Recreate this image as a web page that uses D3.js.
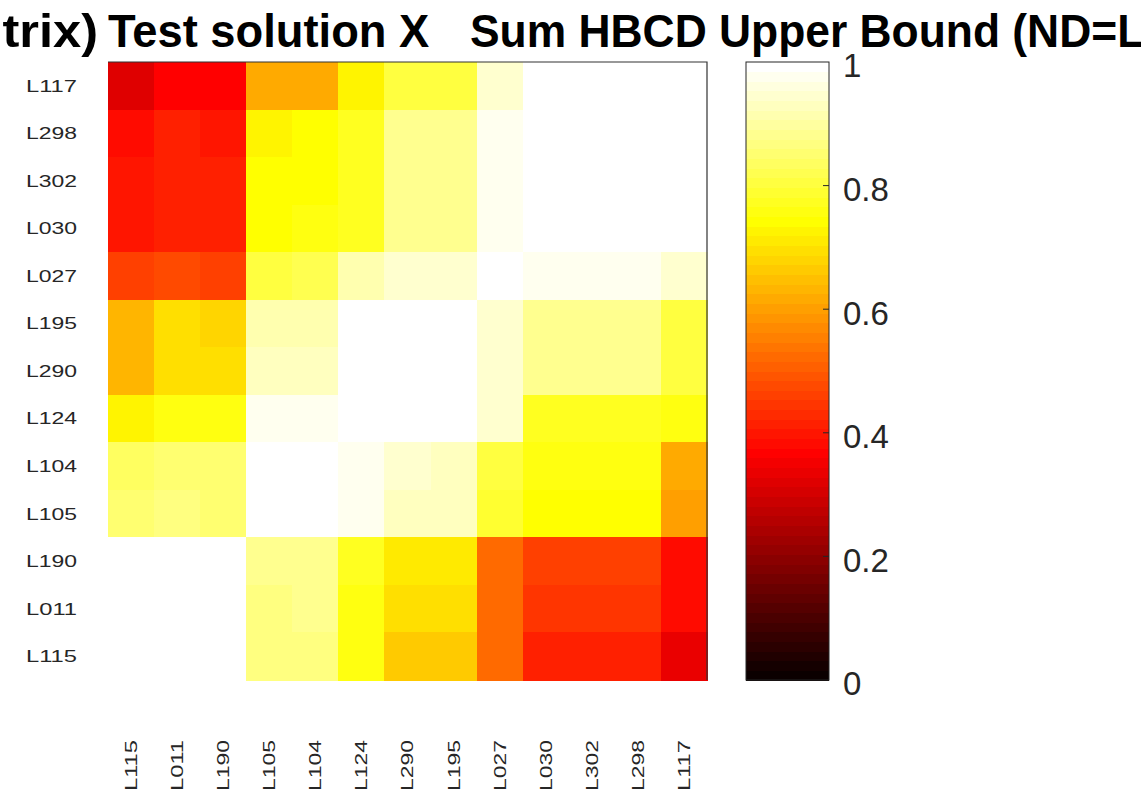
<!DOCTYPE html>
<html><head><meta charset="utf-8">
<script src="https://cdn.jsdelivr.net/npm/d3@7/dist/d3.min.js"></script>
<style>
body{margin:0;background:#fff;overflow:hidden;}
svg{display:block;font-family:Arial,"Liberation Sans",Helvetica,sans-serif;}
</style>
</head><body>
<svg id="chart" width="1141" height="795"></svg>
<script>
// ---- data ----
const rowLabels = ["L117","L298","L302","L030","L027","L195","L290","L124","L104","L105","L190","L011","L115"];
const colLabels = ["L115","L011","L190","L105","L104","L124","L290","L195","L027","L030","L302","L298","L117"];
const values = [
  [0.32,0.37,0.37,0.62,0.62,0.72,0.80,0.81,0.95,0.99,0.99,0.99,1.00],
  [0.39,0.41,0.40,0.73,0.74,0.77,0.88,0.88,0.98,0.99,1.00,1.00,0.99],
  [0.40,0.42,0.41,0.74,0.74,0.78,0.89,0.89,0.98,1.00,1.00,1.00,0.99],
  [0.40,0.42,0.41,0.74,0.75,0.78,0.89,0.89,0.98,1.00,1.00,1.00,0.99],
  [0.46,0.48,0.46,0.81,0.82,0.91,0.94,0.94,1.00,0.98,0.98,0.98,0.95],
  [0.63,0.70,0.68,0.92,0.92,0.99,0.99,1.00,0.95,0.89,0.89,0.89,0.81],
  [0.64,0.70,0.69,0.93,0.93,0.99,1.00,0.99,0.95,0.88,0.88,0.88,0.80],
  [0.73,0.76,0.76,0.98,0.98,1.00,0.99,0.99,0.94,0.78,0.78,0.78,0.76],
  [0.84,0.85,0.85,0.99,1.00,0.98,0.94,0.93,0.80,0.75,0.75,0.75,0.62],
  [0.85,0.86,0.85,1.00,0.99,0.98,0.93,0.93,0.79,0.74,0.74,0.74,0.60],
  [0.99,1.00,1.00,0.88,0.88,0.78,0.71,0.71,0.53,0.46,0.46,0.46,0.39],
  [1.00,1.00,0.99,0.86,0.88,0.76,0.70,0.70,0.52,0.45,0.45,0.45,0.38],
  [1.00,0.99,0.99,0.86,0.87,0.76,0.67,0.67,0.52,0.42,0.41,0.41,0.34]
];
const colorbarTicks = [0, 0.2, 0.4, 0.6, 0.8, 1];
const colorbarTickLabels = ["0","0.2","0.4","0.6","0.8","1"];
const titleParts = ["trix)", "Test solution X", "Sum HBCD Upper Bound (ND=L"];

// ---- MATLAB "hot" colormap, 64 levels ----
const M = 64, N = 24;
function hotIndex(k){
  const r = k < N ? (k+1)/N : 1;
  const g = k < N ? 0 : (k < 2*N ? (k-N+1)/N : 1);
  const b = k < 2*N ? 0 : (k-2*N+1)/(M-2*N);
  return d3.rgb(r*255, g*255, b*255).formatHex();
}
const colorIdx = d3.scaleQuantize().domain([0,1]).range(d3.range(M));
const color = v => hotIndex(colorIdx(Math.max(0, Math.min(1, v))));

const svg = d3.select("#chart");
const L = 108, R = 707, T = 62, B = 680;
const x = d3.scaleBand().domain(colLabels).range([L, R]);
const y = d3.scaleBand().domain(rowLabels).range([T, B]);

// cells
const cells = [];
values.forEach((row, i) => row.forEach((v, j) => cells.push({r: rowLabels[i], c: colLabels[j], v})));
svg.append("g").attr("shape-rendering","crispEdges")
  .selectAll("rect").data(cells).join("rect")
  .attr("x", d => x(d.c)).attr("y", d => y(d.r))
  .attr("width", x.bandwidth()+0.5).attr("height", y.bandwidth()+0.5)
  .attr("fill", d => color(d.v));

// axes box (top & right visible)
svg.append("path").attr("d", `M${L},${T}H${R}V${B}`).attr("fill","none")
  .attr("stroke","#333").attr("stroke-width",1.2);

// y labels
const yAxis = d3.axisLeft(y).tickSize(0).tickPadding(0);
const gy = svg.append("g").attr("transform", `translate(77,0)`).call(yAxis);
gy.select(".domain").remove();
gy.selectAll("text").attr("font-size", 17).attr("fill","#262626")
  .attr("font-family","Arial, 'Liberation Sans', sans-serif")
  .attr("dy","0.35em").attr("dx",0)
  .attr("textLength", 51).attr("lengthAdjust","spacingAndGlyphs");

// x labels rotated
const xAxis = d3.axisBottom(x).tickSize(0).tickPadding(0);
const gx = svg.append("g").attr("transform", `translate(0,740)`).call(xAxis);
gx.select(".domain").remove();
gx.selectAll("text").attr("font-size", 17).attr("fill","#262626")
  .attr("font-family","Arial, 'Liberation Sans', sans-serif")
  .attr("text-anchor","end").attr("y",0).attr("x",0).attr("dy","0.35em")
  .attr("transform","rotate(-90)")
  .attr("textLength", 51).attr("lengthAdjust","spacingAndGlyphs");

// colorbar
const CL = 746, CR = 829;
const yc = d3.scaleLinear().domain([0,1]).range([B, T]);
svg.append("g").attr("shape-rendering","crispEdges")
  .selectAll("rect").data(d3.range(M)).join("rect")
  .attr("x", CL).attr("width", CR-CL)
  .attr("y", k => yc((k+1)/M)).attr("height", k => yc(k/M) - yc((k+1)/M) + 0.5)
  .attr("fill", k => hotIndex(k));
svg.append("rect").attr("x", CL).attr("y", T).attr("width", CR-CL).attr("height", B-T)
  .attr("fill","none").attr("stroke","#262626").attr("stroke-width",1);
const cAxis = d3.axisRight(yc).tickValues(colorbarTicks).tickSize(0).tickPadding(0)
  .tickFormat((d,i) => colorbarTickLabels[i]);
const gc = svg.append("g").attr("transform", `translate(843,0)`).call(cAxis);
gc.select(".domain").remove();
gc.selectAll("text").attr("font-size", 33).attr("fill","#262626")
  .attr("font-family","Arial, 'Liberation Sans', sans-serif")
  .attr("x",0).attr("dy","0.45em");
svg.append("g").selectAll("line").data(colorbarTicks.filter(t => t>0 && t<1)).join("line")
  .attr("x1", CR-6).attr("x2", CR).attr("y1", d => yc(d)).attr("y2", d => yc(d))
  .attr("stroke","#262626").attr("stroke-width",1);

// title (clipped at both edges in the reference)
const titlePos = [{x: 98, anchor: "end", s: 1.1}, {x: 108, anchor: "start", s: 0.985}, {x: 470, anchor: "start", s: 0.965}];
titleParts.forEach((t, i) => {
  const p = titlePos[i];
  svg.append("text").attr("transform", `translate(${p.x},47) scale(${p.s},1)`)
    .attr("text-anchor", p.anchor).attr("font-size", 46).attr("font-weight","bold")
    .attr("fill","#000").attr("font-family","Arial, 'Liberation Sans', sans-serif")
    .text(t);
});
</script>
</body></html>
